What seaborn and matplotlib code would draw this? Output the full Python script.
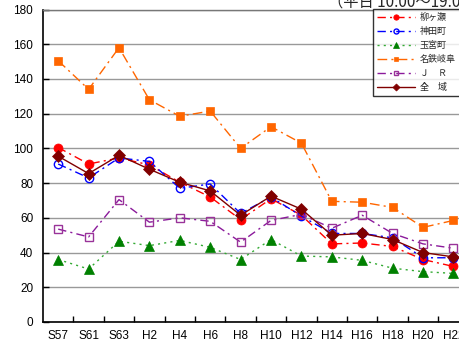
import seaborn as sns
import matplotlib.pyplot as plt
from matplotlib.ticker import FixedLocator, NullFormatter, FixedFormatter
import numpy as np

years = ['S57', 'S61', 'S63', 'H2', 'H4', 'H6', 'H8', 'H10', 'H12', 'H14', 'H16', 'H18', 'H20', 'H22']
yanagase = [100.5, 91, 94.5, 90.5, 80.5, 72, 59, 71, 61.5, 45, 45.5, 43.5, 36, 32]
kanda = [91, 83, 94.5, 92.5, 77, 79.5, 62.5, 72, 61, 51, 51, 48.5, 37, 37]
tamamiya = [36, 30.5, 46.5, 44, 47, 43, 36, 47.5, 38, 37.5, 35.5, 31, 29, 28]
meitetsu = [150.5, 134, 158, 128, 118.5, 121.5, 100, 112.5, 103, 69.5, 69, 66, 54.5, 58.5]
jr = [53.5, 49, 70.5, 57.5, 60, 58, 46, 58.5, 62, 54, 61.5, 51, 45, 42.5]
zentai = [95.5, 85.5, 96, 88, 80.5, 75.5, 61.5, 72.5, 65, 50, 51, 47.5, 40, 37.5]

series = [
    ('柳ヶ瀬', yanagase, dict(color='#FF0000', ls=(0, (6, 3, 1.5, 3)), marker='o', ms=6.5, mfc='#FF0000', mec='#FF0000')),
    ('神田町', kanda, dict(color='#0000FF', ls=(0, (6, 3, 1.5, 3)), marker='o', ms=6, mfc='none', mec='#0000FF', mew=1)),
    ('玉宮町', tamamiya, dict(color='#33AA33', ls=(0, (1.5, 3)), marker='^', ms=7, mfc='#008000', mec='#008000')),
    ('名鉄岐阜', meitetsu, dict(color='#FF6600', ls=(0, (7, 3, 1.5, 3)), marker='s', ms=6, mfc='#FF6600', mec='#FF6600')),
    ('Ｊ　Ｒ', jr, dict(color='#8B1A9B', ls=(0, (6, 3, 1.5, 3)), marker='s', ms=6, mfc='none', mec='#993399', mew=1)),
    ('全　域', zentai, dict(color='#800000', ls='-', marker='D', ms=6, mfc='#800000', mec='#800000')),
]

sns.set_theme(style='white')
plt.rcParams['font.family'] = ['Liberation Sans', 'Noto Sans CJK JP']

fig = plt.figure(figsize=(4.59, 3.52), dpi=100)
ax = fig.add_axes([43 / 459, 1 - 322 / 352, 425.6 / 459, 312.5 / 352])

x = np.arange(len(years))
for name, vals, st in series:
    sns.lineplot(x=x, y=vals, ax=ax, label=name, linewidth=1.0,
                 linestyle=st['ls'], color=st['color'], marker=st['marker'],
                 markersize=st['ms'], markerfacecolor=st['mfc'],
                 markeredgecolor=st['mec'], markeredgewidth=st.get('mew', 0.5))

ax.set_xlim(-0.5, len(years) - 0.5)
ax.set_ylim(0, 180)
ax.set_yticks(range(0, 181, 20))
ax.yaxis.grid(True, color='#999999', linewidth=1)
ax.set_axisbelow(True)

ax.xaxis.set_major_locator(FixedLocator(np.arange(0.5, len(years), 1)))
ax.xaxis.set_major_formatter(NullFormatter())
ax.xaxis.set_minor_locator(FixedLocator(x))
ax.xaxis.set_minor_formatter(FixedFormatter(years))
ax.tick_params(axis='x', which='major', direction='in', length=4, width=1, color='black', bottom=True)
ax.tick_params(axis='x', which='minor', length=0, pad=6, labelsize=8.5, labelcolor='black')
ax.tick_params(axis='y', direction='in', length=4, width=1, color='black', left=True,
               pad=7, labelsize=8.5, labelcolor='black')

for side in ['left', 'bottom']:
    ax.spines[side].set_color('black')
    ax.spines[side].set_linewidth(1.2)
for side in ['top', 'right']:
    ax.spines[side].set_color('#777777')
    ax.spines[side].set_linewidth(1)
ax.set_xlabel('')
ax.set_ylabel('')

leg = ax.legend(loc='upper left', bbox_to_anchor=(373 / 459, 1 - 9.3 / 352),
                bbox_transform=fig.transFigure, fontsize=6.5, frameon=True,
                fancybox=False, borderaxespad=0, handlelength=4.3,
                handletextpad=0.5, labelspacing=0.55, borderpad=0.4, markerscale=0.6)
leg.get_frame().set_edgecolor('black')
leg.get_frame().set_linewidth(1)

fig.text(328 / 459, 1 - 6.5 / 352, '（平日 10:00～19:00）', fontsize=11, ha='left', va='baseline',
         family=['Noto Sans CJK JP', 'Liberation Sans'])

fig.savefig('out.png', dpi=100)
